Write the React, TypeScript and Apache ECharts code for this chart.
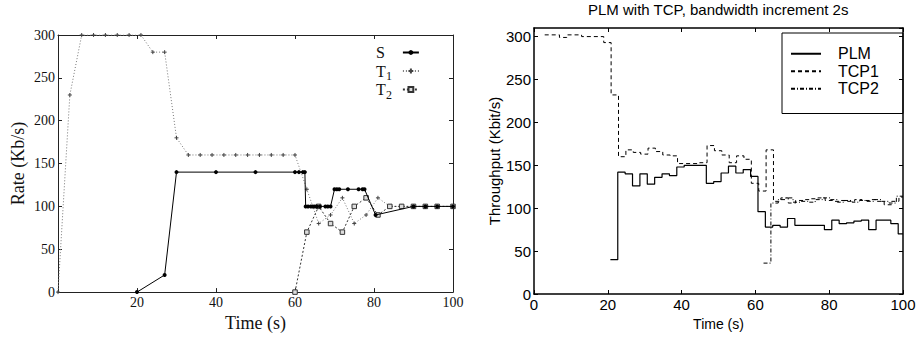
import React, { useEffect, useRef } from "react";
import * as echarts from "echarts";

// ---------- Left chart: Rate (Kb/s) vs Time (s) ----------
const sRate: [number, number][] = [
  [20, 0], [27, 20], [30, 140], [40, 140], [50, 140], [60, 140], [61, 140], [62, 140], [62.5, 140],
  [62.7, 100], [63.3, 100], [64, 100], [64.5, 100], [65, 100], [65.5, 100], [66.3, 100],
  [67.7, 100], [68.3, 100], [69, 100], [70, 120], [70.6, 120], [71.2, 120], [73.4, 120],
  [76.1, 120], [77.1, 120], [77.6, 120], [80.4, 90], [90, 100], [93, 100], [96, 100], [100, 100],
];
const t1Rate: [number, number][] = [
  [0, 0], [3, 230], [6, 300], [9, 300], [12, 300], [15, 300], [18, 300], [21, 300], [24, 280],
  [27, 280], [30, 180], [33, 160], [36, 160], [39, 160], [42, 160], [45, 160], [48, 160],
  [51, 160], [54, 160], [57, 160], [60, 160], [63, 120], [66, 80], [69, 90], [72, 110],
  [75, 80], [78, 90], [81, 110], [84, 100], [87, 100], [90, 100], [93, 100], [96, 100], [100, 100],
];
const t2Rate: [number, number][] = [
  [60, 0], [63, 70], [66, 100], [69, 80], [72, 70], [75, 100], [78, 110], [81, 90], [84, 100],
  [87, 100], [90, 100], [93, 100], [96, 100], [100, 100],
];

// ---------- Right chart: Throughput (Kbit/s) vs Time (s), step data ----------
const plmThroughput: [number, number][] = [
  [20.7, 40], [22.7, 142], [24.7, 140], [26.7, 126], [28.7, 140], [30.7, 128], [32.7, 136],
  [34.7, 140], [36.7, 138], [38.7, 148], [40.7, 150], [42.7, 150], [44.7, 150], [46.7, 129],
  [48.7, 131], [50.7, 141], [52.7, 149], [54.7, 141], [56.7, 145], [58.7, 137], [60.7, 96],
  [62.7, 78], [64.7, 80], [66.7, 78], [68.7, 88], [70.7, 80], [72.7, 80], [74.7, 80],
  [76.7, 80], [78.7, 75], [80.7, 86], [82.7, 82], [84.7, 83], [86.7, 85], [88.7, 86],
  [90.7, 75], [92.7, 86], [94.7, 86], [96.7, 82], [98.7, 70], [100, 70],
];
const tcp1Throughput: [number, number][] = [
  [2.9, 302], [6.9, 299], [8.9, 302], [12.9, 300], [18.9, 293], [20.9, 232], [22.9, 160],
  [24.9, 168], [26.9, 165], [28.9, 163], [30.9, 170], [32.9, 166], [34.9, 162], [36.9, 161],
  [38.9, 152], [40.9, 152], [42.9, 152], [44.9, 153], [46.9, 173], [48.9, 167], [50.9, 162],
  [52.9, 153], [54.9, 161], [56.9, 157], [58.9, 129], [60.9, 120], [62.9, 168], [64.9, 108],
  [66.9, 112], [68.9, 106], [70.9, 109], [72.9, 110], [74.9, 111], [76.9, 112], [78.9, 109],
  [80.9, 108], [82.9, 109], [84.9, 108], [86.9, 110], [88.9, 109], [90.9, 110], [92.9, 108],
  [94.9, 104], [96.9, 108], [98.9, 113], [100, 113],
];
const tcp2Throughput: [number, number][] = [
  [62.2, 36], [64.2, 106], [66.2, 110], [68.2, 112], [70.2, 107], [72.2, 108], [74.2, 107],
  [76.2, 110], [78.2, 112], [80.2, 110], [82.2, 107], [84.2, 109], [86.2, 107], [88.2, 109],
  [90.2, 108], [92.2, 110], [94.2, 108], [96.2, 106], [98.2, 114], [100, 114],
];

const LEFT_NAMES = ["S", "T1", "T2"];
const RIGHT_NAMES = ["PLM", "TCP1", "TCP2"];
const TITLE = "PLM with TCP, bandwidth increment 2s";

const serif = "'Liberation Serif', 'Times New Roman', serif";
const sans = "'Liberation Sans', Arial, Helvetica, sans-serif";
const plusPath = "path://M2,0L2,4M0,2L4,2";

function frameAxis(
  gridIndex: number,
  position: string,
  max: number,
  interval: number,
  color: string,
  width: number,
  label: any,
  extra: any = {}
) {
  return {
    gridIndex,
    type: "value",
    position,
    min: 0,
    max,
    interval,
    axisLine: { show: true, onZero: false, lineStyle: { color, width } },
    axisTick: { show: true, inside: true, length: 4, lineStyle: { color, width: 1 } },
    splitLine: { show: false },
    axisLabel: label,
    ...extra,
  };
}

export default function App() {
  const ref = useRef<HTMLDivElement>(null);

  useEffect(() => {
    document.body.style.margin = "0";
    if (!ref.current) return;
    const chart = echarts.init(ref.current, null, { renderer: "svg" });

    const leftLabel = { show: true, margin: 3, fontFamily: serif, fontSize: 14, color: "#111" };
    const rightLabel = { show: true, margin: 3, fontFamily: sans, fontSize: 15, color: "#000" };
    const noLabel = { show: false };

    const option: any = {
      animation: false,
      backgroundColor: "#fff",
      title: {
        text: TITLE,
        left: 588,
        top: 2,
        padding: 0,
        textStyle: { fontFamily: sans, fontSize: 15, fontWeight: "normal", color: "#000" },
      },
      grid: [
        { left: 58, top: 35, width: 395, height: 263 },
        { left: 534, top: 28, width: 369, height: 266 },
      ],
      xAxis: [
        frameAxis(0, "bottom", 100, 20, "#222", 1, { ...leftLabel, showMinLabel: false }, {
          name: "Time (s)",
          nameLocation: "middle",
          nameGap: 18,
          nameTextStyle: { fontFamily: serif, fontSize: 18, color: "#111" },
        }),
        frameAxis(0, "top", 100, 20, "#222", 1, noLabel),
        frameAxis(1, "bottom", 100, 20, "#000", 1.5, rightLabel, {
          name: "Time (s)",
          nameLocation: "middle",
          nameGap: 19,
          nameTextStyle: { fontFamily: sans, fontSize: 14, color: "#000" },
        }),
        frameAxis(1, "top", 100, 20, "#000", 1.5, noLabel),
      ],
      yAxis: [
        frameAxis(0, "left", 300, 50, "#222", 1, leftLabel, {
          name: "Rate (Kb/s)",
          nameLocation: "middle",
          nameGap: 31,
          nameTextStyle: { fontFamily: serif, fontSize: 18, color: "#111" },
        }),
        frameAxis(0, "right", 300, 50, "#222", 1, noLabel),
        frameAxis(1, "left", 310, 50, "#000", 1.5, { ...rightLabel, showMaxLabel: false }, {
          name: "Throughput (Kbit/s)",
          nameLocation: "middle",
          nameGap: 29,
          nameTextStyle: { fontFamily: sans, fontSize: 15, color: "#000" },
        }),
        frameAxis(1, "right", 310, 50, "#000", 1.5, noLabel),
      ],
      legend: [
        {
          data: LEFT_NAMES,
          orient: "vertical",
          left: 376,
          top: 41.5,
          padding: 0,
          align: "right",
          itemWidth: 16,
          itemHeight: 6,
          itemGap: -3.5,
          selectedMode: false,
          formatter: (name: string) =>
            name.length > 1 ? `${name[0]}{sub|${name.slice(1)}}` : `${name}{gap| }`,
          textStyle: {
            fontFamily: serif,
            fontSize: 16,
            lineHeight: 16,
            color: "#111",
            rich: {
              sub: { fontFamily: serif, fontSize: 12, lineHeight: 12, padding: [10, 6, 0, 0], color: "#111" },
              gap: { fontFamily: serif, fontSize: 12, lineHeight: 12, width: 7, padding: [10, 6, 0, 0] },
            },
          },
        },
        {
          data: RIGHT_NAMES,
          orient: "vertical",
          left: 782,
          top: 33,
          padding: [12, 15, 16, 8],
          align: "left",
          itemWidth: 30,
          itemHeight: 10,
          itemGap: 0,
          borderColor: "#000",
          borderWidth: 1,
          selectedMode: false,
          itemStyle: { opacity: 0, borderWidth: 0 },
          textStyle: {
            fontFamily: sans,
            fontSize: 16,
            lineHeight: 17.5,
            width: 50,
            padding: [0, 0, 0, 12],
            color: "#000",
          },
        },
      ],
      series: [
        {
          name: "S",
          type: "line",
          xAxisIndex: 0,
          yAxisIndex: 0,
          data: sRate,
          symbol: "circle",
          symbolSize: 4,
          z: 5,
          lineStyle: { color: "#000", width: 1 },
          itemStyle: { color: "#000" },
        },
        {
          name: "T1",
          type: "line",
          xAxisIndex: 0,
          yAxisIndex: 0,
          data: t1Rate,
          symbol: plusPath,
          symbolSize: 4,
          z: 3,
          lineStyle: { color: "#777", width: 1, type: [1, 2] },
          itemStyle: { color: "#444", borderColor: "#444", borderWidth: 1 },
        },
        {
          name: "T2",
          type: "line",
          xAxisIndex: 0,
          yAxisIndex: 0,
          data: t2Rate,
          symbol: "rect",
          symbolSize: 4.5,
          z: 4,
          lineStyle: { color: "#333", width: 1, type: [2, 2] },
          itemStyle: { color: "#ddd", borderColor: "#333", borderWidth: 1 },
        },
        {
          name: "PLM",
          type: "line",
          xAxisIndex: 2,
          yAxisIndex: 2,
          data: plmThroughput,
          step: "end",
          symbol: "none",
          lineStyle: { color: "#000", width: 1.2 },
          itemStyle: { color: "#000" },
        },
        {
          name: "TCP1",
          type: "line",
          xAxisIndex: 2,
          yAxisIndex: 2,
          data: tcp1Throughput,
          step: "end",
          symbol: "none",
          lineStyle: { color: "#000", width: 1, type: [4, 3] },
          itemStyle: { color: "#000" },
        },
        {
          name: "TCP2",
          type: "line",
          xAxisIndex: 2,
          yAxisIndex: 2,
          data: tcp2Throughput,
          step: "end",
          symbol: "none",
          lineStyle: { color: "#000", width: 1, type: [4, 2, 1, 2] },
          itemStyle: { color: "#000" },
        },
      ],
    };

    chart.setOption(option);
    return () => chart.dispose();
  }, []);

  return <div ref={ref} style={{ width: 919, height: 337 }} />;
}
